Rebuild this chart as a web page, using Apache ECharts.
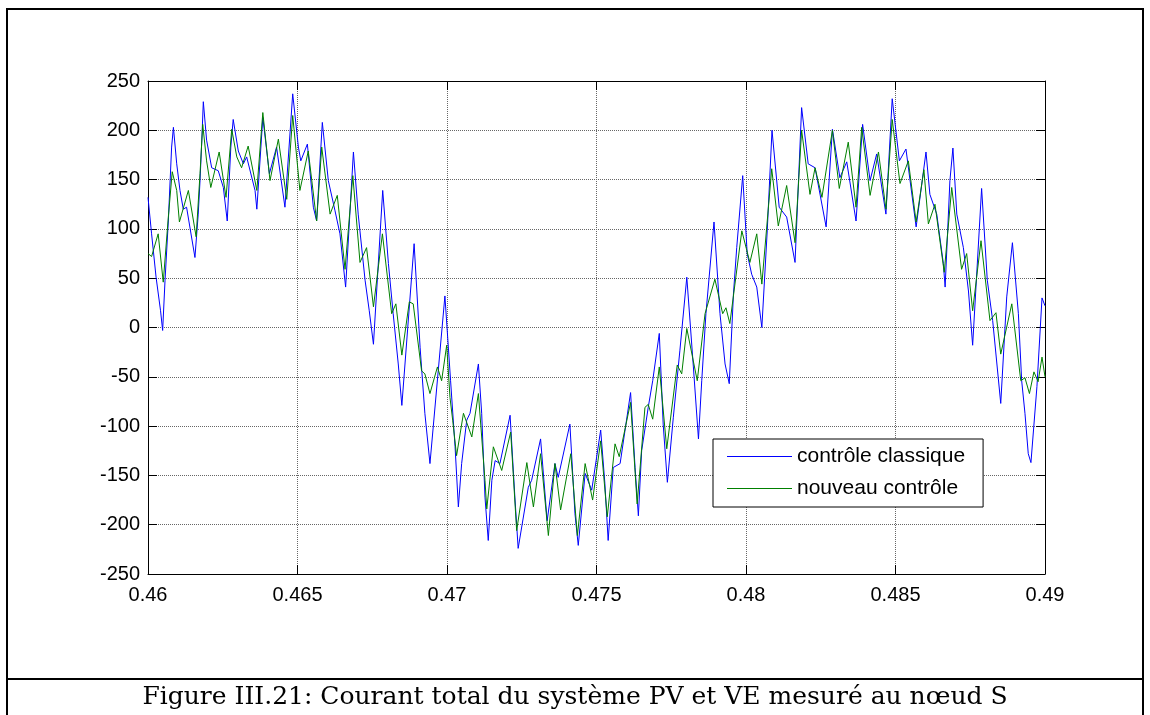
<!DOCTYPE html>
<html lang="fr">
<head>
    <meta charset="UTF-8">
    <title>Courant total du système PV et VE</title>
    <script src="https://cdn.jsdelivr.net/npm/echarts@6/dist/echarts.min.js"></script>
    <style>
        html, body { margin: 0; padding: 0; background: #fff; }
        #main { width: 1150px; height: 715px; }
    </style>
</head>
<body>
<div id="main"></div>
<script>
    // temps (s) et courant (A)
    var tClassique = [0.46000, 0.46012, 0.46027, 0.46042, 0.46049, 0.46057, 0.46068, 0.46079, 0.46085, 0.46096,
        0.46107, 0.46118, 0.46129, 0.46157, 0.46168, 0.46174, 0.46180, 0.46185, 0.46196, 0.46213,
        0.46235, 0.46252, 0.46265, 0.46277, 0.46285, 0.46302, 0.46319, 0.46330, 0.46358, 0.46364,
        0.46384, 0.46406, 0.46430, 0.46458, 0.46484, 0.46503, 0.46511, 0.46533, 0.46553, 0.46564,
        0.46583, 0.46603, 0.46625, 0.46642, 0.46661, 0.46687, 0.46703, 0.46726, 0.46740, 0.46754,
        0.46785, 0.46804, 0.46820, 0.46837, 0.46849, 0.46890, 0.46910, 0.46926, 0.46943, 0.46993,
        0.47012, 0.47027, 0.47038, 0.47049, 0.47066, 0.47077, 0.47105, 0.47116, 0.47127, 0.47138,
        0.47150, 0.47161, 0.47177, 0.47211, 0.47227, 0.47238, 0.47272, 0.47283, 0.47313, 0.47335,
        0.47361, 0.47372, 0.47411, 0.47428, 0.47439, 0.47462, 0.47484, 0.47514, 0.47528, 0.47539,
        0.47556, 0.47579, 0.47614, 0.47629, 0.47640, 0.47651, 0.47673, 0.47688, 0.47710, 0.47723,
        0.47737, 0.47757, 0.47779, 0.47802, 0.47824, 0.47841, 0.47852, 0.47866, 0.47893, 0.47913,
        0.47930, 0.47944, 0.47958, 0.47969, 0.47989, 0.48004, 0.48019, 0.48036, 0.48053, 0.48071,
        0.48087, 0.48111, 0.48136, 0.48164, 0.48186, 0.48208, 0.48231, 0.48268, 0.48289, 0.48314,
        0.48337, 0.48368, 0.48390, 0.48415, 0.48437, 0.48468, 0.48489, 0.48513, 0.48535, 0.48569,
        0.48602, 0.48615, 0.48638, 0.48660, 0.48666, 0.48682, 0.48692, 0.48705, 0.48727, 0.48744,
        0.48758, 0.48788, 0.48807, 0.48825, 0.48852, 0.48872, 0.48891, 0.48911, 0.48922, 0.48933,
        0.48944, 0.48953, 0.48973, 0.48990, 0.49000];
    var iClassique = [132, 95, 51, 17, -3, 48, 108, 183, 203, 166,
        139, 120, 122, 71, 115, 149, 190, 229, 190, 162,
        159, 142, 108, 183, 211, 179, 166, 173, 139, 120,
        213, 156, 183, 122, 237, 183, 169, 186, 122, 108,
        208, 149, 119, 95, 41, 178, 115, 48, 17, -17,
        139, 65, 14, -37, -79, 85, -20, -87, -138, 32,
        -54, -121, -182, -138, -94, -87, -37, -87, -172, -216,
        -155, -135, -138, -89, -172, -224, -162, -155, -113, -196,
        -138, -152, -98, -189, -221, -148, -165, -104, -158, -216,
        -142, -138, -66, -142, -191, -125, -81, -54, -6, -98,
        -157, -91, -23, 51, -40, -113, -54, 14, 107, 14,
        -37, -57, 34, 81, 154, 75, 54, 41, 0, 98,
        200, 122, 112, 66, 223, 166, 162, 102, 201, 152,
        168, 108, 206, 149, 176, 115, 232, 169, 181, 102,
        178, 135, 115, 65, 41, 149, 182, 115, 81, 37,
        -18, 141, 48, 7, -77, 31, 86, 14, -54, -87,
        -128, -137, -60, 30, 22];

    var tNouveau = [0.46000, 0.46012, 0.46034, 0.46051, 0.46068, 0.46081, 0.46096, 0.46105, 0.46135, 0.46161,
        0.46174, 0.46183, 0.46196, 0.46210, 0.46238, 0.46261, 0.46280, 0.46297, 0.46313, 0.46335,
        0.46364, 0.46384, 0.46408, 0.46436, 0.46464, 0.46484, 0.46508, 0.46536, 0.46564, 0.46581,
        0.46609, 0.46633, 0.46659, 0.46685, 0.46709, 0.46731, 0.46754, 0.46784, 0.46815, 0.46829,
        0.46849, 0.46874, 0.46887, 0.46915, 0.46926, 0.46943, 0.46968, 0.46982, 0.46999, 0.47010,
        0.47019, 0.47032, 0.47055, 0.47083, 0.47105, 0.47127, 0.47133, 0.47155, 0.47183, 0.47213,
        0.47233, 0.47267, 0.47289, 0.47313, 0.47339, 0.47361, 0.47380, 0.47414, 0.47436, 0.47462,
        0.47487, 0.47514, 0.47536, 0.47562, 0.47576, 0.47614, 0.47636, 0.47662, 0.47673, 0.47688,
        0.47710, 0.47735, 0.47770, 0.47785, 0.47802, 0.47837, 0.47863, 0.47896, 0.47922, 0.47933,
        0.47946, 0.47986, 0.48013, 0.48036, 0.48053, 0.48086, 0.48108, 0.48136, 0.48164, 0.48186,
        0.48214, 0.48231, 0.48254, 0.48289, 0.48312, 0.48342, 0.48368, 0.48387, 0.48415, 0.48443,
        0.48468, 0.48489, 0.48515, 0.48543, 0.48569, 0.48595, 0.48610, 0.48632, 0.48663, 0.48688,
        0.48721, 0.48738, 0.48758, 0.48786, 0.48816, 0.48836, 0.48852, 0.48889, 0.48919, 0.48933,
        0.48948, 0.48963, 0.48977, 0.48990, 0.49000];
    var iNouveau = [75, 72, 95, 46, 112, 158, 139, 107, 139, 92,
        156, 206, 169, 142, 178, 132, 201, 173, 162, 184,
        139, 218, 149, 191, 130, 215, 139, 179, 108, 183,
        115, 134, 59, 154, 66, 81, 21, 95, 14, 24,
        -28, 26, 24, -44, -47, -67, -40, -54, -18, -71,
        -94, -130, -87, -111, -67, -155, -184, -121, -145, -106,
        -206, -137, -182, -128, -211, -138, -185, -128, -211, -138,
        -175, -115, -192, -118, -131, -76, -179, -81, -78, -93,
        -40, -123, -38, -47, -1, -54, 14, 49, 14, 20,
        4, 98, 66, 95, 44, 161, 103, 144, 86, 200,
        135, 162, 132, 200, 141, 188, 122, 203, 134, 178,
        120, 211, 146, 169, 107, 160, 105, 125, 56, 142,
        59, 75, 17, 88, 7, 15, -27, 24, -54, -51,
        -67, -45, -55, -30, -50];

    var noms = ['contrôle classique', 'nouveau contrôle'];
    var legende = 'Figure III.21: Courant total du système PV et VE mesuré au nœud S';

    function paires(t, v) {
        return t.map(function (x, i) { return [x, v[i]]; });
    }

    var police = "'Liberation Sans', Arial, sans-serif";
    var tick = { show: true, inside: true, length: 9, lineStyle: { color: '#000', width: 1 } };
    var ligne = { show: true, onZero: false, lineStyle: { color: '#000', width: 1 } };
    var grille = { show: true, lineStyle: { color: '#666', width: 1, type: [1, 1] } };

    var myChart = echarts.init(document.getElementById('main'));
    myChart.setOption({
        animation: false,
        backgroundColor: '#fff',
        grid: { left: 148, top: 81, width: 897, height: 493 },
        legend: {
            left: 713, top: 439,
            orient: 'vertical',
            data: noms,
            icon: 'rect',
            itemWidth: 65, itemHeight: 1, itemGap: 11,
            padding: [7, 18, 8, 14],
            backgroundColor: '#fff',
            borderColor: '#000', borderWidth: 1, borderRadius: 0,
            textStyle: { fontFamily: police, fontSize: 21, color: '#000', lineHeight: 21 }
        },
        xAxis: [{
            type: 'value', min: 0.46, max: 0.49, interval: 0.005,
            axisLine: ligne, axisTick: tick, splitLine: grille,
            axisLabel: {
                margin: 11, color: '#000', fontFamily: police, fontSize: 20,
                formatter: function (v) { return String(+v.toFixed(3)); }
            }
        }, {
            type: 'value', position: 'top', min: 0.46, max: 0.49, interval: 0.005,
            axisLine: ligne, axisTick: tick, axisLabel: { show: false }, splitLine: { show: false }
        }],
        yAxis: [{
            type: 'value', min: -250, max: 250, interval: 50,
            axisLine: ligne, axisTick: tick, splitLine: grille,
            axisLabel: { margin: 8, color: '#000', fontFamily: police, fontSize: 20 }
        }, {
            type: 'value', position: 'right', min: -250, max: 250, interval: 50,
            axisLine: ligne, axisTick: tick, axisLabel: { show: false }, splitLine: { show: false }
        }],
        series: [{
            name: noms[0], type: 'line', symbol: 'none', showSymbol: false,
            lineStyle: { color: '#0000ff', width: 1 }, itemStyle: { color: '#0000ff' },
            data: paires(tClassique, iClassique)
        }, {
            name: noms[1], type: 'line', symbol: 'none', showSymbol: false,
            lineStyle: { color: '#008000', width: 1 }, itemStyle: { color: '#008000' },
            data: paires(tNouveau, iNouveau)
        }],
        graphic: [
            { type: 'rect', shape: { x: 7, y: 9, width: 1136, height: 730 },
              style: { fill: 'none', stroke: '#000', lineWidth: 2 }, silent: true },
            { type: 'line', shape: { x1: 7, y1: 679, x2: 1143, y2: 679 },
              style: { stroke: '#000', lineWidth: 2 }, silent: true },
            { type: 'text', x: 575, y: 697,
              style: { text: legende, fill: '#000', font: "25px 'DejaVu Serif', serif",
                       textAlign: 'center', textVerticalAlign: 'middle' }, silent: true }
        ]
    });
</script>
</body>
</html>
